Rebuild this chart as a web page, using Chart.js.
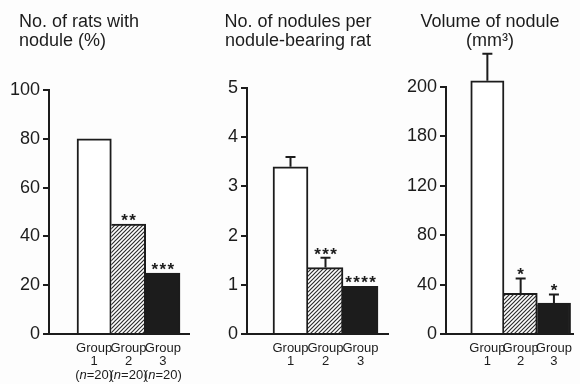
<!DOCTYPE html>
<html>
<head>
<meta charset="utf-8">
<script src="https://cdn.jsdelivr.net/npm/chart.js@4.4.1/dist/chart.umd.min.js"></script>
<style>
  html, body { margin: 0; padding: 0; background: #fdfdfd; }
  #wrap { position: relative; width: 580px; height: 384px; overflow: hidden; }
  #wrap canvas { position: absolute; left: 0; top: 0; }
</style>
</head>
<body>
<div id="wrap">
  <canvas id="rats" width="580" height="384"></canvas>
  <canvas id="nodules" width="580" height="384"></canvas>
  <canvas id="volume" width="580" height="384"></canvas>
</div>
<script>
// Treatment groups and group sizes
const groups = ['1', '2', '3'];
const groupSizes = ['20', '20', '20'];

// Panel 1: rats with nodule (%)
const ratsTitle = ['No. of rats with', 'nodule (%)'];
const ratsWithNodule = [80, 45, 25];
const ratsStars = ['', '**', '***'];
const ratsTicks = ['0', '20', '40', '60', '80', '100'];

// Panel 2: nodules per nodule-bearing rat (mean, SEM)
const nodulesTitle = ['No. of nodules per', 'nodule-bearing rat'];
const nodulesPerRat = [3.4, 1.35, 0.97];
const nodulesSem = [0.2, 0.2, 0];
const nodulesStars = ['', '***', '****'];
const nodulesTicks = ['0', '1', '2', '3', '4', '5'];

// Panel 3: nodule volume in mm³ (mean, SEM)
const volumeTitle = ['Volume of nodule', '(mm\u00B3)'];
const noduleVolume = [205, 33, 25];
const volumeSem = [22, 12, 7];
const volumeStars = ['', '*', '*'];
const volumeTicks = ['0', '40', '80', '120', '180', '200'];

const INK = '#1c1c1c';
const FONT = '"Liberation Sans", Arial, Helvetica, sans-serif';
const Y_W = 45;   // width reserved for the y axis
const X_H = 50;   // height reserved for the x axis

function hatchPattern(ctx) {
  const s = 4;
  const c = document.createElement('canvas');
  c.width = s; c.height = s;
  const g = c.getContext('2d');
  g.fillStyle = '#ffffff';
  g.fillRect(0, 0, s, s);
  g.strokeStyle = '#2e2e2e';
  g.lineWidth = 1.2;
  g.beginPath();
  g.moveTo(-1, s + 1); g.lineTo(s + 1, -1);
  g.moveTo(-1, 1); g.lineTo(1, -1);
  g.moveTo(s - 1, s + 1); g.lineTo(s + 1, s - 1);
  g.stroke();
  return ctx.createPattern(c, 'repeat');
}

// Error bars, significance stars, titles and the group-size row
function decor(p) {
  return {
    id: 'decor_' + p.id,
    afterDatasetsDraw(chart) {
      const ctx = chart.ctx;
      const ys = chart.scales.y;
      const meta = chart.getDatasetMeta(0);
      ctx.save();
      ctx.strokeStyle = INK;
      ctx.fillStyle = INK;
      ctx.lineWidth = 2;
      p.values.forEach((v, i) => {
        const x = meta.data[i].x;
        const sem = p.sem ? p.sem[i] : 0;
        const yBar = ys.getPixelForValue(v);
        let yTop = yBar;
        if (sem > 0) {
          yTop = ys.getPixelForValue(v + sem);
          ctx.beginPath();
          ctx.moveTo(x, yBar); ctx.lineTo(x, yTop);
          ctx.moveTo(x - 5, yTop); ctx.lineTo(x + 5, yTop);
          ctx.stroke();
        }
        const stars = p.stars[i];
        if (stars) {
          ctx.font = 'bold 17px ' + FONT;
          ctx.textAlign = 'center';
          ctx.textBaseline = 'alphabetic';
          const n = stars.length, pitch = 8;
          for (let k = 0; k < n; k++) {
            ctx.fillText('*', x + (k - (n - 1) / 2) * pitch, yTop - 8 + 10);
          }
        }
      });
      ctx.restore();
    },
    afterDraw(chart) {
      const ctx = chart.ctx;
      ctx.save();
      ctx.fillStyle = INK;
      ctx.textBaseline = 'alphabetic';
      ctx.font = '18px ' + FONT;
      ctx.textAlign = p.titleAlign;
      p.title.forEach((line, k) => ctx.fillText(line, p.titleX, p.titleY[k]));
      if (p.sizes) {
        const xs = chart.scales.x;
        const normal = '13px ' + FONT, italic = 'italic 13px ' + FONT;
        ctx.textAlign = 'left';
        p.sizes.forEach((sz, i) => {
          const parts = [['(', normal], ['n', italic], ['=' + sz + ')', normal]];
          let w = 0;
          parts.forEach(([t, f]) => { ctx.font = f; w += ctx.measureText(t).width; });
          let x = xs.getPixelForValue(i + 1) - w / 2;
          parts.forEach(([t, f]) => { ctx.font = f; ctx.fillText(t, x, 379); x += ctx.measureText(t).width; });
        });
      }
      ctx.restore();
    }
  };
}

function makePanel(p) {
  const ctx = document.getElementById(p.id).getContext('2d');
  const fills = ['#ffffff', hatchPattern(ctx), '#1c1c1c'];
  return new Chart(ctx, {
    type: 'bar',
    data: {
      datasets: [{
        data: p.values.map((v, i) => ({ x: i + 1, y: v })),
        backgroundColor: fills,
        borderColor: INK,
        borderWidth: (c) => ({ top: 2, right: 2, bottom: 0, left: c.dataIndex === 0 ? 2 : 0 }),
        borderSkipped: false,
        categoryPercentage: 1,
        barPercentage: 1,
        clip: false
      }]
    },
    options: {
      responsive: false,
      animation: false,
      devicePixelRatio: 1,
      layout: {
        padding: { left: p.axisX - Y_W, right: 580 - p.right, top: p.top, bottom: 384 - p.bottom - X_H }
      },
      plugins: { legend: { display: false }, tooltip: { enabled: false }, title: { display: false } },
      scales: {
        x: {
          type: 'linear',
          offset: false,
          min: p.xMin,
          max: p.xMax,
          afterBuildTicks: (s) => { s.ticks = groups.map((g, i) => ({ value: i + 1 })); },
          afterFit: (s) => { s.height = X_H; },
          grid: { display: false, drawTicks: false },
          border: { display: true, color: INK, width: 2 },
          ticks: {
            autoSkip: false,
            maxRotation: 0,
            padding: 8,
            color: INK,
            font: { family: FONT, size: 13, lineHeight: 1 },
            callback: (v, i) => ['Group', groups[i]]
          }
        },
        y: {
          min: 0,
          max: p.max,
          ticks: {
            stepSize: p.step,
            padding: 3,
            color: INK,
            font: { family: FONT, size: 18 },
            callback: (v, i) => p.tickLabels[i]
          },
          afterFit: (s) => { s.width = Y_W; },
          grid: { display: true, drawOnChartArea: false, drawTicks: true, tickLength: 6, color: INK, lineWidth: 2 },
          border: { display: true, color: INK, width: 2 }
        }
      }
    },
    plugins: [decor(p)]
  });
}

makePanel({
  id: 'rats', values: ratsWithNodule, stars: ratsStars, sem: null, sizes: groupSizes,
  tickLabels: ratsTicks, max: 100, step: 20,
  axisX: 49, right: 189, top: 90, bottom: 334, xMin: -0.316, xMax: 3.762,
  title: ratsTitle, titleAlign: 'left', titleX: 19, titleY: [27, 46]
});

makePanel({
  id: 'nodules', values: nodulesPerRat, stars: nodulesStars, sem: nodulesSem, sizes: null,
  tickLabels: nodulesTicks, max: 5, step: 1,
  axisX: 247, right: 388, top: 88, bottom: 334, xMin: -0.243, xMax: 3.786,
  title: nodulesTitle, titleAlign: 'center', titleX: 298, titleY: [27, 46]
});

makePanel({
  id: 'volume', values: noduleVolume, stars: volumeStars, sem: volumeSem, sizes: null,
  tickLabels: volumeTicks, max: 200, step: 40,
  axisX: 446, right: 580, top: 87, bottom: 334, xMin: -0.243, xMax: 3.586,
  title: volumeTitle, titleAlign: 'center', titleX: 490, titleY: [27, 46]
});
</script>
</body>
</html>
